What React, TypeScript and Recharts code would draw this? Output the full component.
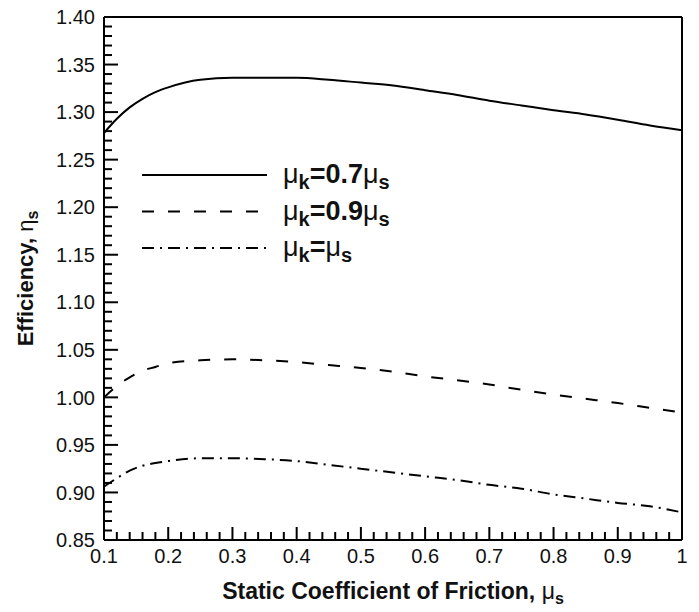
import { LineChart, Line, XAxis, YAxis, ReferenceLine, Legend } from "recharts"

// friction coefficient (x)
const muS = [0.1, 0.12, 0.14, 0.16, 0.18, 0.2, 0.25, 0.3, 0.35, 0.4, 0.45, 0.5, 0.55, 0.6, 0.65, 0.7, 0.75, 0.8, 0.85, 0.9, 0.95, 1.0]

// efficiency for each kinetic/static ratio
const eta07 = [1.278, 1.293, 1.305, 1.314, 1.321, 1.326, 1.334, 1.336, 1.336, 1.336, 1.334, 1.331, 1.328, 1.323, 1.318, 1.312, 1.307, 1.302, 1.2975, 1.292, 1.286, 1.281]
const eta09 = [1.0, 1.012, 1.021, 1.028, 1.032, 1.036, 1.039, 1.04, 1.039, 1.037, 1.034, 1.031, 1.027, 1.022, 1.018, 1.0135, 1.008, 1.003, 0.9985, 0.994, 0.989, 0.984]
const eta10 = [0.906, 0.915, 0.923, 0.928, 0.931, 0.933, 0.936, 0.936, 0.935, 0.933, 0.929, 0.925, 0.921, 0.917, 0.913, 0.908, 0.904, 0.898, 0.8935, 0.889, 0.8855, 0.879]

const xMajor = [0.1, 0.2, 0.3, 0.4, 0.5, 0.6, 0.7, 0.8, 0.9, 1]
const xLabels = ["0.1", "0.2", "0.3", "0.4", "0.5", "0.6", "0.7", "0.8", "0.9", "1"]
const yMajor = [0.85, 0.9, 0.95, 1.0, 1.05, 1.1, 1.15, 1.2, 1.25, 1.3, 1.35, 1.4]
const yLabels = ["0.85", "0.90", "0.95", "1.00", "1.05", "1.10", "1.15", "1.20", "1.25", "1.30", "1.35", "1.40"]

const data = muS.map((x, i) => ({ x, a: eta07[i], b: eta09[i], c: eta10[i] }))

// minor ticks: every 0.02 on x, every 0.01 on y
const xTicks: number[] = []
for (let i = 0; i <= 45; i++) xTicks.push(Math.round((0.1 + i * 0.02) * 1000) / 1000)
const yTicks: number[] = []
for (let i = 0; i <= 55; i++) yTicks.push(Math.round((0.85 + i * 0.01) * 1000) / 1000)

const FONT = "'Liberation Sans', Arial, sans-serif"

const findIdx = (arr: number[], v: number) => arr.findIndex((m) => Math.abs(m - v) < 1e-6)

const YTick = (props: any) => {
  const { x, y, payload } = props
  const idx = findIdx(yMajor, payload.value)
  const len = idx >= 0 ? 14 : 8
  return (
    <g>
      <line x1={x} x2={x + len} y1={y} y2={y} stroke="#000" strokeWidth={2} />
      {idx >= 0 && (
        <text x={x - 9} y={y} dy="0.36em" textAnchor="end" fontSize={20} fontFamily={FONT} fill="#111">
          {yLabels[idx]}
        </text>
      )}
    </g>
  )
}

const XTick = (props: any) => {
  const { x, y, payload } = props
  const idx = findIdx(xMajor, payload.value)
  const len = idx >= 0 ? 13 : 8
  return (
    <g>
      <line x1={x} x2={x} y1={y} y2={y - len} stroke="#000" strokeWidth={2} />
      {idx >= 0 && (
        <text x={x} y={y + 23} textAnchor="middle" fontSize={20} fontFamily={FONT} fill="#111">
          {xLabels[idx]}
        </text>
      )}
    </g>
  )
}

const XTitle = (props: any) => {
  const { viewBox } = props
  const cx = viewBox.x + viewBox.width / 2
  return (
    <text x={cx} y={viewBox.y + 59} textAnchor="middle" fontSize={23} fontWeight="bold" fontFamily={FONT} fill="#111">
      Static Coefficient of Friction, <tspan fontWeight="normal">μ</tspan>
      <tspan fontSize={16} dy={5}>s</tspan>
    </text>
  )
}

const YTitle = (props: any) => {
  const { viewBox } = props
  const cy = viewBox.y + viewBox.height / 2
  const tx = 33
  return (
    <text x={tx} y={cy} transform={`rotate(-90, ${tx}, ${cy})`} textAnchor="middle" fontSize={22} fontWeight="bold" fontFamily={FONT} fill="#111">
      Efficiency, <tspan fontWeight="normal">η</tspan>
      <tspan fontSize={16} dy={5}>s</tspan>
    </text>
  )
}

const legendRatios = ["0.7", "0.9", ""]

const LegendBox = (props: any) => {
  const { payload } = props
  return (
    <svg width={320} height={115}>
      {payload.map((p: any, i: number) => {
        const y = 25 + i * 36.5
        return (
          <g key={i}>
            <line x1={7} x2={132} y1={y} y2={y} stroke="#000" strokeWidth={2} strokeDasharray={p.payload.strokeDasharray} />
            <text x={148} y={y + 8} fontSize={27} fontFamily={FONT} fill="#111">
              μ
              <tspan fontSize={20} fontWeight="bold" dy={6}>k</tspan>
              <tspan fontWeight="bold" dy={-6}>={legendRatios[i]}</tspan>
              <tspan>μ</tspan>
              <tspan fontSize={20} fontWeight="bold" dy={6}>s</tspan>
            </text>
          </g>
        )
      })}
    </svg>
  )
}

export default function App() {
  return (
    <div style={{ position: "absolute", left: 0, top: 0, background: "#fff" }}>
      <LineChart width={699} height={612} data={data} margin={{ top: 17, right: 17, bottom: 32, left: 0 }}>
        <XAxis
          dataKey="x"
          type="number"
          domain={[0.1, 1]}
          ticks={xTicks}
          interval={0}
          tickSize={0}
          tickMargin={0}
          tickLine={false}
          tick={<XTick />}
          axisLine={{ stroke: "#000", strokeWidth: 2 }}
          height={40}
          label={<XTitle />}
        />
        <YAxis
          type="number"
          domain={[0.85, 1.4]}
          ticks={yTicks}
          interval={0}
          tickSize={0}
          tickMargin={0}
          tickLine={false}
          tick={<YTick />}
          axisLine={{ stroke: "#000", strokeWidth: 2 }}
          width={104}
          label={<YTitle />}
        />
        <ReferenceLine y={1.4} stroke="#000" strokeWidth={2} />
        <ReferenceLine x={1} stroke="#000" strokeWidth={2} />
        <Legend
          layout="horizontal"
          verticalAlign="middle"
          content={<LegendBox />}
          wrapperStyle={{ left: 135, top: 150, width: 320, height: 115 }}
        />
        <Line dataKey="a" name="0.7" stroke="#000" strokeWidth={2} dot={false} isAnimationActive={false} type="monotone" />
        <Line dataKey="b" name="0.9" stroke="#000" strokeWidth={2} strokeDasharray="12 14" dot={false} isAnimationActive={false} type="monotone" />
        <Line dataKey="c" name="1.0" stroke="#000" strokeWidth={2} strokeDasharray="12 6 2 6" dot={false} isAnimationActive={false} type="monotone" />
      </LineChart>
    </div>
  )
}
